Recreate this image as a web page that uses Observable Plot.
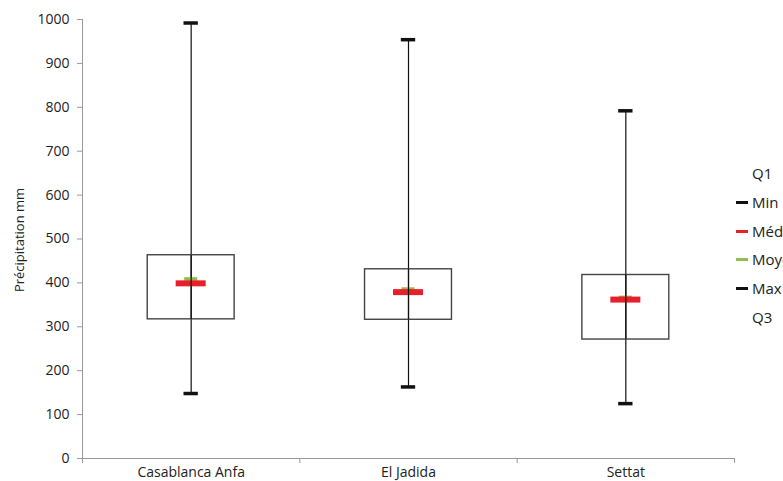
<!DOCTYPE html>
<html>
<head>
<meta charset="utf-8">
<script src="https://cdn.jsdelivr.net/npm/d3@7"></script>
<script src="https://cdn.jsdelivr.net/npm/@observablehq/plot@0.6"></script>
<style>
  html, body { margin: 0; padding: 0; background: #fff; overflow: hidden; width: 783px; height: 481px; }
  #wrap { position: relative; width: 783px; height: 481px; font-family: "Open Sans", sans-serif; }
  #legend { position: absolute; left: 734px; top: 163px; font-size: 15px; color: #222; white-space: nowrap; }
  #legend .item { position: absolute; left: 0; height: 20px; line-height: 20px; }
  #legend .sw { position: absolute; left: 2px; top: 9px; width: 12px; height: 3px; }
  #legend .lab { position: absolute; left: 18px; top: 0; }
</style>
</head>
<body>
<div id="wrap"><div id="chart"></div><div id="legend"></div></div>
<script>
const stations = ["Casablanca Anfa", "El Jadida", "Settat"];
const minVals = [148, 163, 125];
const q1Vals = [317, 316, 271];
const medVals = [399, 379, 362];
const meanVals = [409, 386, 367];
const q3Vals = [463, 431, 418];
const maxVals = [992, 954, 792];
const yTicks = [0, 100, 200, 300, 400, 500, 600, 700, 800, 900, 1000];
const legendLabels = ["Q1", "Min", "Médiane", "Moyenne", "Max", "Q3"];
const legendColors = [null, "#111", "#e8202a", "#8dc04b", "#111", null];

const data = stations.map((s, i) => ({
  s, i, c: i + 0.5,
  min: minVals[i], q1: q1Vals[i], med: medVals[i], mean: meanVals[i], q3: q3Vals[i], max: maxVals[i]
}));

const capW = 0.033, medW = 0.069, meanW = 0.03;

const chart = Plot.plot({
  width: 783,
  height: 481,
  marginLeft: 82,
  marginRight: 49,
  marginTop: 19,
  marginBottom: 23,
  style: { fontFamily: "Open Sans, sans-serif", fontSize: "14px", color: "#222", background: "#fff" },
  x: { type: "linear", domain: [0, 3] },
  y: { domain: [0, 1000] },
  marks: [
    Plot.axisY({ ticks: yTicks, tickFormat: d => String(d), tickSize: 5, tickPadding: 8, stroke: "#999", fontSize: 14, fill: "#222", label: null }),
    Plot.axisX({ ticks: [0, 1, 2, 3], tickFormat: () => "", tickSize: 5, stroke: "#999", label: null }),
    Plot.ruleX([0], { stroke: "#999" }),
    Plot.ruleY([0], { stroke: "#999" }),
    Plot.text(data, { x: "c", y: 0, text: "s", dy: 14, fontSize: 14, fill: "#222" }),
    Plot.ruleX(data, { x: "c", y1: "min", y2: "max", stroke: "#111", strokeWidth: 1.2 }),
    Plot.rect(data, { x1: d => d.i + 0.3, x2: d => d.i + 0.7, y1: "q1", y2: "q3", fill: "none", stroke: "#444", strokeWidth: 1.4 }),
    Plot.ruleY(data, { y: "min", x1: d => d.c - capW, x2: d => d.c + capW, stroke: "#111", strokeWidth: 3.5 }),
    Plot.ruleY(data, { y: "max", x1: d => d.c - capW, x2: d => d.c + capW, stroke: "#111", strokeWidth: 3.5 }),
    Plot.ruleY(data, { y: "mean", x1: d => d.c - meanW, x2: d => d.c + meanW, stroke: "#8dc04b", strokeWidth: 3.5 }),
    Plot.ruleY(data, { y: "med", x1: d => d.c - medW, x2: d => d.c + medW, stroke: "#e8202a", strokeWidth: 6 }),
    Plot.ruleX(data, { x: "c", y1: "q1", y2: "q3", stroke: "#111", strokeWidth: 1.2 })
  ]
});
document.getElementById("chart").appendChild(chart);

// y-axis title
const svg = d3.select(chart);
svg.append("text")
  .attr("transform", "translate(24,240) rotate(-90)")
  .attr("text-anchor", "middle")
  .attr("font-size", 13)
  .attr("fill", "#222")
  .attr("font-family", "Open Sans, sans-serif")
  .text("Précipitation mm");

const legend = document.getElementById("legend");
legendLabels.forEach((lab, k) => {
  const it = document.createElement("div");
  it.className = "item";
  it.style.top = (k * 28.8) + "px";
  if (legendColors[k]) {
    const sw = document.createElement("div");
    sw.className = "sw";
    sw.style.background = legendColors[k];
    it.appendChild(sw);
  }
  const t = document.createElement("span");
  t.className = "lab";
  t.textContent = lab;
  it.appendChild(t);
  legend.appendChild(it);
});
</script>
</body>
</html>
